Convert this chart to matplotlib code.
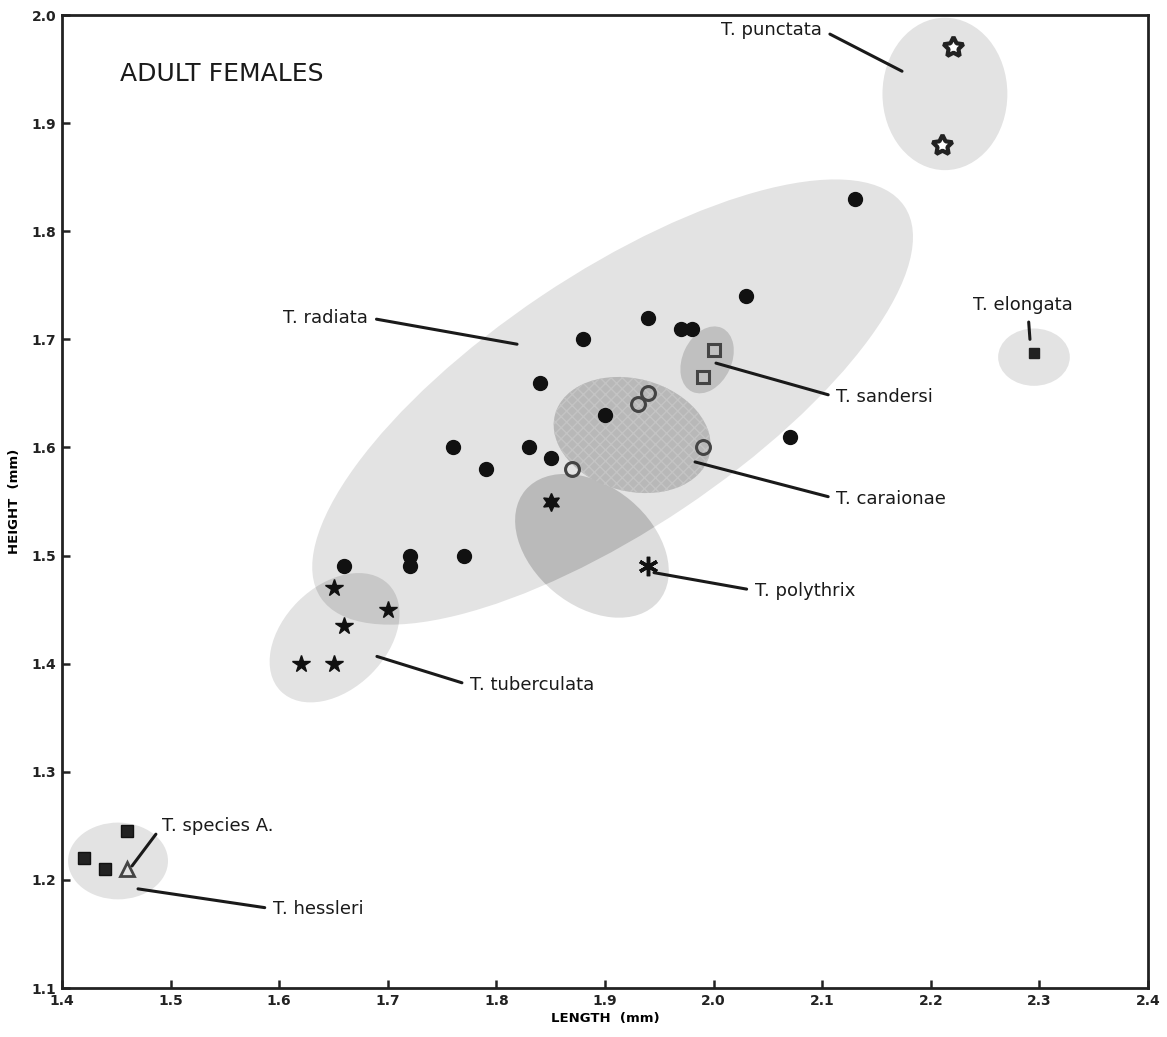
import matplotlib
matplotlib.use("Agg")
import matplotlib.pyplot as plt
from matplotlib.patches import Ellipse

plt.rcParams['font.family'] = ['DejaVu Sans']

# ---------------- data ----------------
radiata_x = [2.13, 2.03, 1.94, 1.97, 1.98, 1.88, 1.84, 1.90, 1.76, 1.83, 1.85, 1.79, 2.07, 1.72, 1.72, 1.77, 1.66]
radiata_y = [1.83, 1.74, 1.72, 1.71, 1.71, 1.70, 1.66, 1.63, 1.60, 1.60, 1.59, 1.58, 1.61, 1.50, 1.49, 1.50, 1.49]
caraionae_x = [1.93, 1.94, 1.99, 1.87]
caraionae_y = [1.64, 1.65, 1.60, 1.58]
sandersi_x = [2.00, 1.99]
sandersi_y = [1.69, 1.665]
tuberculata_x = [1.65, 1.70, 1.66, 1.62, 1.65]
tuberculata_y = [1.47, 1.45, 1.435, 1.40, 1.40]
hexa_x = [1.85]
hexa_y = [1.55]
polythrix_x = [1.94]
polythrix_y = [1.49]
punctata_x = [2.22, 2.21]
punctata_y = [1.97, 1.88]
elongata_x = [2.295]
elongata_y = [1.687]
hessleri_x = [1.46, 1.42, 1.44]
hessleri_y = [1.245, 1.22, 1.21]
speciesA_x = [1.46]
speciesA_y = [1.21]

x_ticks = [1.4, 1.5, 1.6, 1.7, 1.8, 1.9, 2.0, 2.1, 2.2, 2.3, 2.4]
x_ticklabels = ["1.4", "1.5", "1.6", "1.7", "1.8", "1.9", "2.0", "2.1", "2.2", "2.3", "2.4"]
y_ticks = [1.1, 1.2, 1.3, 1.4, 1.5, 1.6, 1.7, 1.8, 1.9, 2.0]
y_ticklabels = ["1.1", "1.2", "1.3", "1.4", "1.5", "1.6", "1.7", "1.8", "1.9", "2.0"]

# ranges (center x, center y, width, height, angle)
region_radiata = (1.907, 1.642, 0.648, 0.236, 34)
region_caraionae = (1.925, 1.6115, 0.147, 0.104, -15)
region_sandersi = (1.994, 1.681, 0.065, 0.045, 65)
region_polythrix = (1.888, 1.509, 0.16, 0.11, -40)
region_tuberculata = (1.651, 1.424, 0.14, 0.095, 45)
region_punctata = (2.213, 1.927, 0.115, 0.141, 0)
region_elongata = (2.295, 1.6835, 0.066, 0.053, 0)
region_hessleri = (1.4516, 1.2175, 0.092, 0.071, 0)

# labels: text, text position, line end, alignment
labels = [
    ("T. punctata", (2.100, 1.986), (2.1735, 1.948), 'right'),
    ("T. radiata", (1.682, 1.720), (1.819, 1.6955), 'right'),
    ("T. elongata", (2.285, 1.732), (2.2913, 1.700), 'center'),
    ("T. sandersi", (2.113, 1.6466), (2.0022, 1.678), 'left'),
    ("T. caraionae", (2.113, 1.5525), (1.9829, 1.5866), 'left'),
    ("T. polythrix", (2.038, 1.4676), (1.9451, 1.4842), 'left'),
    ("T. tuberculata", (1.7757, 1.380), (1.690, 1.4067), 'left'),
    ("T. species A.", (1.4921, 1.2498), (1.4645, 1.2129), 'left'),
    ("T. hessleri", (1.5943, 1.1732), (1.470, 1.1917), 'left'),
]

# ---------------- figure ----------------
W, H = 1167, 1037
fig = plt.figure(figsize=(W / 100, H / 100), dpi=100)
ax = fig.add_axes([62 / W, 1 - 988 / H, (1148 - 62) / W, (988 - 15) / H])
ax.set_xlim(1.4, 2.4)
ax.set_ylim(1.1, 2.0)

light = '#e3e3e3'

def ell(params, **kw):
    cx, cy, w, h, a = params
    e = Ellipse((cx, cy), w, h, angle=a, **kw)
    ax.add_patch(e)
    return e

rad = ell(region_radiata, facecolor=light, edgecolor='none', zorder=1)
ell(region_punctata, facecolor=light, edgecolor='none', zorder=1)
ell(region_elongata, facecolor=light, edgecolor='none', zorder=1)
ell(region_hessleri, facecolor=light, edgecolor='none', zorder=1)
ell(region_tuberculata, facecolor=light, edgecolor='none', zorder=1)
ell(region_polythrix, facecolor='#dddddd', edgecolor='none', zorder=1)
# darker overlaps with radiata
ov1 = ell(region_polythrix, facecolor='#bababa', edgecolor='none', zorder=2)
ov1.set_clip_path(rad)
ov2 = ell(region_tuberculata, facecolor='#c8c8c8', edgecolor='none', zorder=2)
ov2.set_clip_path(rad)
plt.rcParams['hatch.linewidth'] = 1.0
ell(region_caraionae, facecolor='#b8b8b8', edgecolor='#c4c4c4', hatch='xxx', linewidth=0, zorder=2)
ell(region_sandersi, facecolor='#c0c0c0', edgecolor='none', zorder=2)

# ---------------- markers ----------------
ax.plot(radiata_x, radiata_y, 'o', color='#111111', markersize=10, zorder=5)
ax.plot(caraionae_x, caraionae_y, 'o', markerfacecolor='none', markeredgecolor='#444444',
        markeredgewidth=2.2, markersize=10, zorder=5)
ax.plot(sandersi_x, sandersi_y, 's', markerfacecolor='none', markeredgecolor='#444444',
        markeredgewidth=2.2, markersize=9, zorder=5)
ax.plot(tuberculata_x, tuberculata_y, '*', color='#111111', markersize=13, zorder=5)
ax.plot(hexa_x, hexa_y, marker=(6, 1, 0), color='#111111', markersize=13, zorder=5, linestyle='none')
ax.plot(polythrix_x, polythrix_y, marker=(6, 2, 0), color='#111111', markersize=14,
        markeredgewidth=2.5, zorder=5, linestyle='none')
ax.plot(punctata_x, punctata_y, marker=(5, 1, 0), markerfacecolor='white', markeredgecolor='#222222',
        markeredgewidth=3, markersize=15, zorder=5, linestyle='none')
ax.plot(elongata_x, elongata_y, 's', color='#222222', markersize=7, zorder=5)
ax.plot(hessleri_x, hessleri_y, 's', markerfacecolor='#222222', markeredgecolor='#111111',
        markersize=9, zorder=5, linestyle='none')
ax.plot(speciesA_x, speciesA_y, '^', markerfacecolor='none', markeredgecolor='#444444',
        markeredgewidth=2, markersize=10, zorder=5)

# ---------------- labels ----------------
for txt, tpos, lend, ha in labels:
    if ha == 'right':
        rel = (1.0, 0.5)
    elif ha == 'left':
        rel = (0.0, 0.5)
    else:
        rel = (0.55, 0.0)
    ax.annotate(txt, xy=lend, xytext=tpos, ha=ha, va='center', fontsize=13, color='#1a1a1a',
                arrowprops=dict(arrowstyle='-', lw=2.2, color='#1a1a1a', shrinkA=4, shrinkB=0,
                                relpos=rel), zorder=6)

ax.text(1.453, 1.945, "ADULT FEMALES", fontsize=18, color='#1a1a1a', ha='left', va='center')

# ---------------- axes styling ----------------
for s in ax.spines.values():
    s.set_linewidth(2)
    s.set_color('#222222')
ax.set_xticks(x_ticks)
ax.set_xticklabels(x_ticklabels)
ax.set_yticks(y_ticks)
ax.set_yticklabels(y_ticklabels)
ax.tick_params(direction='in', length=6, width=1.8, pad=4, labelsize=10, colors='#222222')
for lab in ax.get_xticklabels() + ax.get_yticklabels():
    lab.set_fontweight('bold')
ax.set_xlabel("LENGTH  (mm)", fontsize=9.5, fontweight='bold', labelpad=3)
ax.set_ylabel("HEIGHT  (mm)", fontsize=9.5, fontweight='bold', labelpad=8)

fig.savefig("out.png", dpi=100)
